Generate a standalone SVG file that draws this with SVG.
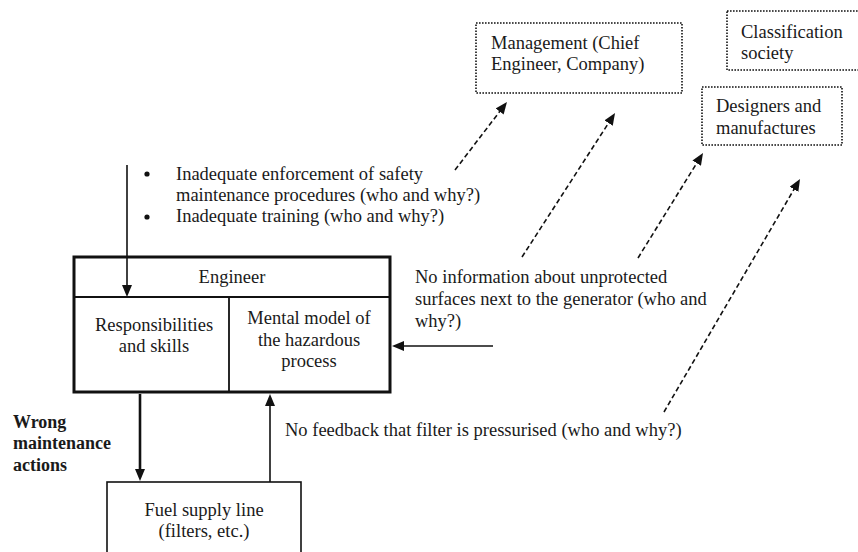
<svg xmlns="http://www.w3.org/2000/svg" width="858" height="552" viewBox="0 0 858 552">
<style>
text{font-family:"Liberation Serif","Times New Roman",serif;font-size:18.5px;fill:#1a1a1a}
.c{text-anchor:middle}
.b{font-weight:bold;font-size:18px}
.dot{fill:none;stroke:#111;stroke-width:1.6;stroke-dasharray:1.6 1.4}
.solid{fill:none;stroke:#111}
.dash{fill:none;stroke:#111;stroke-width:1.6;stroke-dasharray:5 3}
</style>
<defs>
<marker id="ah" viewBox="0 0 12 10" refX="4" refY="5" markerWidth="12" markerHeight="10" markerUnits="userSpaceOnUse" orient="auto"><path d="M0,0 L12,5 L0,10 z" fill="#111"/></marker>
</defs>
<rect width="858" height="552" fill="#fff"/>
<g id="engineer">
<rect x="74" y="257" width="316" height="135" fill="#fff" stroke="#111" stroke-width="3"/>
<line x1="74" y1="297" x2="390" y2="297" stroke="#111" stroke-width="1.8"/>
<line x1="229" y1="297" x2="229" y2="392" stroke="#111" stroke-width="1.8"/>
<text class="c" x="232" y="283">Engineer</text>
<text class="c" x="154" y="331">Responsibilities</text>
<text class="c" x="154" y="352">and skills</text>
<text class="c" x="309" y="324">Mental model of</text>
<text class="c" x="309" y="346">the hazardous</text>
<text class="c" x="309" y="367">process</text>
</g>
<g id="fuel">
<rect x="107" y="482" width="194" height="80" fill="#fff" stroke="#111" stroke-width="1.6"/>
<text class="c" x="204" y="516">Fuel supply line</text>
<text class="c" x="204" y="537">(filters, etc.)</text>
</g>
<g id="management">
<rect class="dot" x="476" y="23" width="206" height="70"/>
<text x="491" y="49">Management (Chief</text>
<text x="491" y="70">Engineer, Company)</text>
</g>
<g id="classification">
<rect class="dot" x="727" y="11" width="140" height="59"/>
<text x="741" y="38">Classification</text>
<text x="741" y="59">society</text>
</g>
<g id="designers">
<rect class="dot" x="702" y="87" width="140" height="58"/>
<text x="716" y="112">Designers and</text>
<text x="716" y="134">manufactures</text>
</g>
<g id="labels">
<circle cx="147" cy="174" r="2.6" fill="#111"/>
<circle cx="147" cy="217" r="2.6" fill="#111"/>
<text x="176" y="180">Inadequate enforcement of safety</text>
<text x="176" y="201">maintenance procedures (who and why?)</text>
<text x="176" y="222">Inadequate training (who and why?)</text>
<text x="415" y="283">No information about unprotected</text>
<text x="415" y="305">surfaces next to the generator (who and</text>
<text x="415" y="327">why?)</text>
<text x="285" y="436">No feedback that filter is pressurised (who and why?)</text>
<text class="b" x="13" y="428">Wrong</text>
<text class="b" x="13" y="449">maintenance</text>
<text class="b" x="13" y="471">actions</text>
</g>
<g id="connectors">
<line class="solid" stroke-width="1.6" x1="127" y1="165" x2="127" y2="289" marker-end="url(#ah)"/>
<line class="solid" stroke-width="1.6" x1="493" y1="346" x2="400" y2="346" marker-end="url(#ah)"/>
<line class="solid" stroke-width="2.6" x1="140" y1="394" x2="140" y2="473" marker-end="url(#ah)"/>
<line class="solid" stroke-width="1.6" x1="270" y1="482" x2="270" y2="402" marker-end="url(#ah)"/>
<line class="dash" x1="455" y1="170" x2="502.1" y2="108.4" marker-end="url(#ah)"/>
<line class="dash" x1="522" y1="257" x2="610.7" y2="119.7" marker-end="url(#ah)"/>
<line class="dash" x1="638" y1="258" x2="698.8" y2="159.8" marker-end="url(#ah)"/>
<line class="dash" x1="664" y1="412" x2="796" y2="185.9" marker-end="url(#ah)"/>
</g>
</svg>
